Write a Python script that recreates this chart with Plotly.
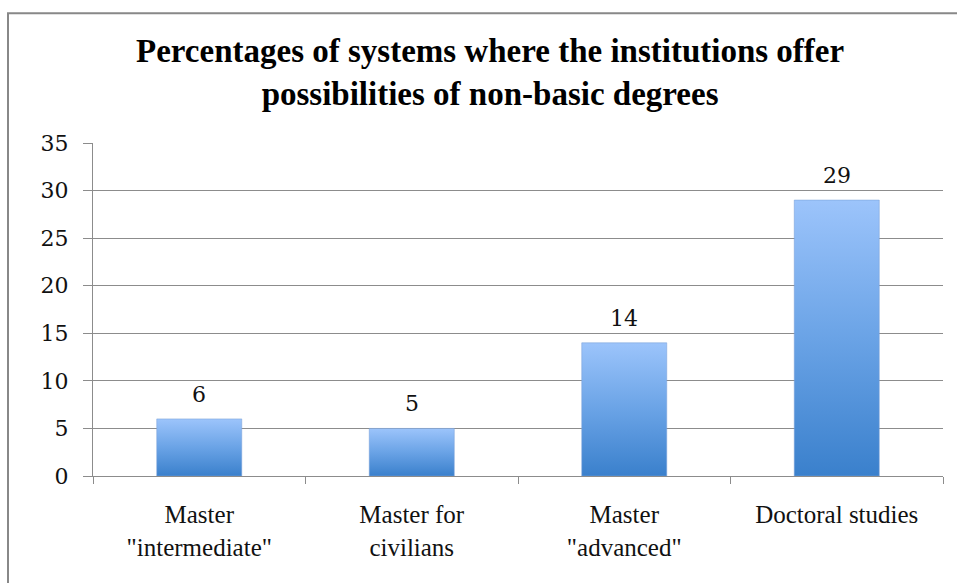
import plotly.graph_objects as go

# Chart data
categories = ['Master<br>"intermediate"', 'Master for<br>civilians', 'Master<br>"advanced"', 'Doctoral studies']
values = [6, 5, 14, 29]
y_ticks = [0, 5, 10, 15, 20, 25, 30, 35]

title_lines = [
    "Percentages of systems where the institutions offer",
    "possibilities of non-basic degrees",
]

BAR_WIDTH = 0.4
GRID = "#8c8c8c"
TEXT_FONT = "'Liberation Serif', 'Times New Roman', Times, serif"
NUM_FONT = "'DejaVu Serif', serif"

fig = go.Figure()

# Each bar is a filled rectangle so it can carry a vertical gradient
for i, v in enumerate(values):
    x0, x1 = i - BAR_WIDTH / 2, i + BAR_WIDTH / 2
    fig.add_trace(go.Scatter(
        x=[x0, x1, x1, x0, x0],
        y=[0, 0, v, v, 0],
        mode="lines",
        line=dict(width=0.6, color="rgba(120,160,215,0.9)"),
        fill="toself",
        fillgradient=dict(
            type="vertical",
            colorscale=[[0, "#3a80cc"], [0.5, "#6aa3e6"], [1, "#9cc4fb"]],
        ),
        hoverinfo="skip",
        showlegend=False,
    ))

# Value labels above the bars
for i, v in enumerate(values):
    fig.add_annotation(
        x=i, y=v, text=str(v), showarrow=False,
        yanchor="bottom", yshift=10,
        font=dict(family=NUM_FONT, size=22, color="#111111"),
    )

# Two-line bold title
fig.add_annotation(
    xref="paper", yref="paper", x=0.467, y=1.212,
    xanchor="center", yanchor="middle",
    text="<br>".join(title_lines), showarrow=False,
    font=dict(family=TEXT_FONT, size=33, color="#000000", weight="bold"),
)

# Outer chart frame
fig.add_shape(
    type="rect", xref="paper", yref="paper",
    x0=-0.1, x1=1.05, y0=-0.4, y1=1.39,
    line=dict(color="#888888", width=2), layer="below",
)

fig.update_layout(
    width=957, height=583,
    margin=dict(l=93, r=14, t=143, b=107),
    paper_bgcolor="white", plot_bgcolor="white",
    xaxis=dict(
        range=[-0.5, 3.5],
        tickvals=list(range(len(categories))),
        ticktext=categories,
        ticks="", showgrid=False, zeroline=False,
        showline=True, linecolor=GRID, linewidth=1,
        tickfont=dict(family=TEXT_FONT, size=25, color="#111111"),
        ticklabelstandoff=16,
        minor=dict(
            tickvals=[k - 0.5 for k in range(len(categories) + 1)],
            ticks="outside", ticklen=7, tickcolor=GRID, tickwidth=1,
            showgrid=False,
        ),
        fixedrange=True,
    ),
    yaxis=dict(
        range=[0, 35],
        tickvals=y_ticks,
        ticks="outside", ticklen=9, tickcolor=GRID,
        showgrid=True, gridcolor=GRID, gridwidth=1,
        zeroline=False,
        showline=True, linecolor=GRID, linewidth=1,
        tickfont=dict(family=NUM_FONT, size=22, color="#111111"),
        ticklabelstandoff=10,
        fixedrange=True,
    ),
    showlegend=False,
)

fig.write_html("out.html")
